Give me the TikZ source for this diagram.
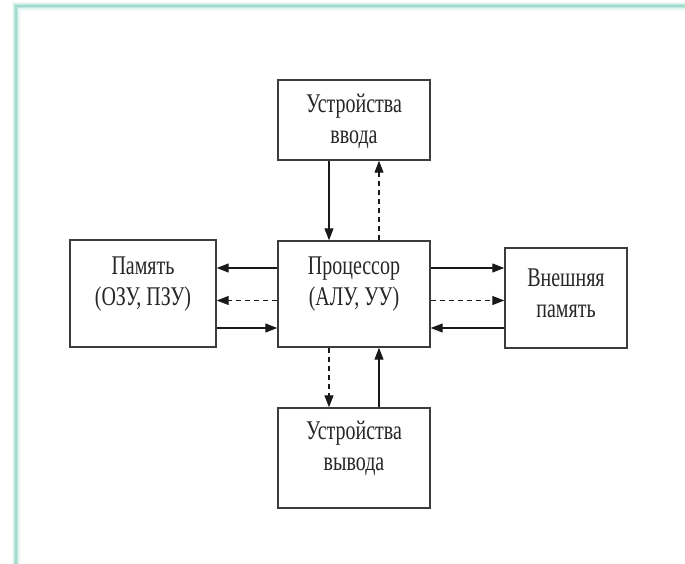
\documentclass[tikz,border=0pt]{standalone}
\usepackage{fontspec}
\setmainfont[FakeStretch=0.74]{Liberation Serif}
\usetikzlibrary{arrows.meta}
\definecolor{frameteal}{RGB}{150,215,200}
\definecolor{boxline}{RGB}{60,60,60}
\tikzset{
  unitbox/.style={draw=boxline, line width=1.4pt, fill=white, inner sep=0pt},
  caption/.style={align=center, inner sep=0pt,
    font=\fontsize{27}{31}\selectfont, text=black!85},
  flow/.style={line width=1.1pt, draw=black!90,
    -{Triangle[length=12pt,width=9pt]}},
  ctrl/.style={flow, dash pattern=on 5pt off 4pt}
}
\begin{document}
\begin{tikzpicture}[x=1pt, y=-1pt]
  \useasboundingbox (0,0) rectangle (685,563);
  % soft teal frame along the top and left edges
  \foreach \w/\o in {9/0.12, 6/0.22, 3.5/0.4, 1.8/0.75}
    \draw[frameteal, line width=\w pt, opacity=\o]
      (690,6) -- (16,6) -- (16,568);

  % units
  \node[unitbox, minimum width=152pt, minimum height=80pt]  (inp)  at (354,120)   {};
  \node[unitbox, minimum width=152pt, minimum height=106pt] (cpu)  at (354,294)   {};
  \node[unitbox, minimum width=146pt, minimum height=107pt] (mem)  at (143,293.5) {};
  \node[unitbox, minimum width=122pt, minimum height=100pt] (ext)  at (566,298)   {};
  \node[unitbox, minimum width=152pt, minimum height=100pt] (outp) at (354,458)   {};

  % captions
  \node[caption] (inp-t)  at ([yshift=-1pt]inp.center)  {Устройства\\ввода};
  \node[caption] (cpu-t)  at ([yshift=10pt]cpu.center)  {Процессор\\(АЛУ, УУ)};
  \node[caption] (mem-t)  at ([yshift=9pt]mem.center)   {Память\\(ОЗУ, ПЗУ)};
  \node[caption] (ext-t)  at ([yshift=5pt]ext.center)   {Внешняя\\память};
  \node[caption] (outp-t) at ([yshift=10pt]outp.center) {Устройства\\вывода};

  % rows and columns of the connectors
  \coordinate (rA) at (0,268);
  \coordinate (rB) at (0,300.5);
  \coordinate (rC) at (0,328);
  \coordinate (cL) at (329,0);
  \coordinate (cR) at (379,0);

  % input devices
  \draw[flow] (inp.south -| cL) -- (cpu.north -| cL);
  \draw[ctrl] (cpu.north -| cR) -- (inp.south -| cR);
  % main memory
  \draw[flow] (cpu.west |- rA) -- (mem.east |- rA);
  \draw[ctrl] (cpu.west |- rB) -- (mem.east |- rB);
  \draw[flow] (mem.east |- rC) -- (cpu.west |- rC);
  % external memory
  \draw[flow] (cpu.east |- rA) -- (ext.west |- rA);
  \draw[ctrl] (cpu.east |- rB) -- (ext.west |- rB);
  \draw[flow] (ext.west |- rC) -- (cpu.east |- rC);
  % output devices
  \draw[ctrl] (cpu.south -| cL) -- (outp.north -| cL);
  \draw[flow] (outp.north -| cR) -- (cpu.south -| cR);
\end{tikzpicture}
\end{document}
